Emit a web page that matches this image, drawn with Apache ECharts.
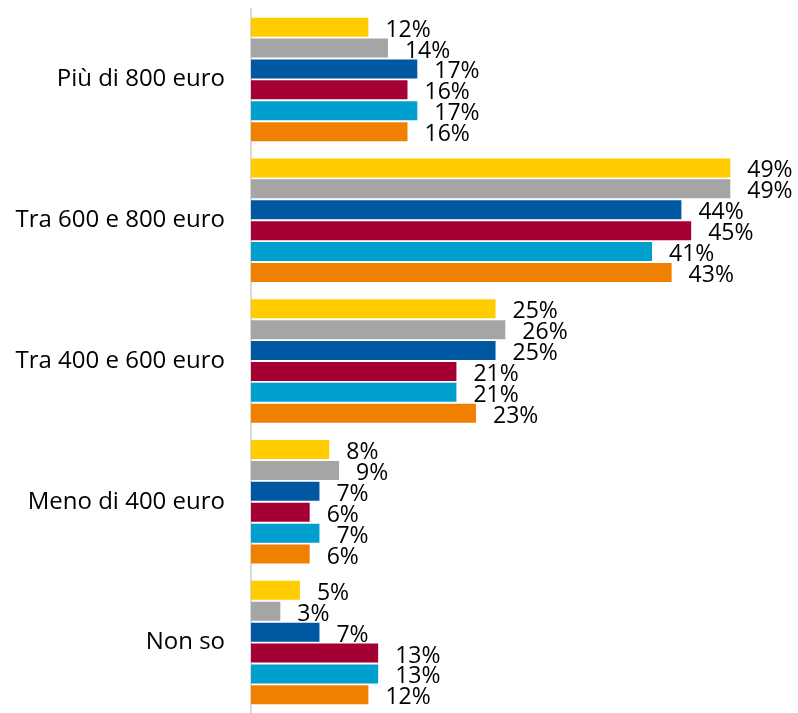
<!DOCTYPE html>
<html>
<head>
<meta charset="utf-8">
<title>Fasce di spesa</title>
<script src="https://cdn.jsdelivr.net/npm/echarts@6.0.0/dist/echarts.min.js"></script>
<style>
  html, body { margin: 0; padding: 0; background: #fff; }
  #chart { width: 798px; height: 713px; }
</style>
</head>
<body>
<div id="chart"></div>
<script>
// categories, top to bottom
const categories = ["Più di 800 euro", "Tra 600 e 800 euro", "Tra 400 e 600 euro", "Meno di 400 euro", "Non so"];

// one array per series (percent), same order as categories
const serie1 = [12, 49, 25, 8, 5];
const serie2 = [14, 49, 26, 9, 3];
const serie3 = [17, 44, 25, 7, 7];
const serie4 = [16, 45, 21, 6, 13];
const serie5 = [17, 41, 21, 7, 13];
const serie6 = [16, 43, 23, 6, 12];

const seriesNames = ["Serie 1", "Serie 2", "Serie 3", "Serie 4", "Serie 5", "Serie 6"];
const colors = ["#FFCC00", "#A5A5A5", "#0057A2", "#A50034", "#00A0CE", "#F08000"];

const chart = echarts.init(document.getElementById("chart"), null, { renderer: "canvas" });

const allSeries = [serie1, serie2, serie3, serie4, serie5, serie6].map(function (data, i) {
  return {
    name: seriesNames[i],
    type: "bar",
    data: data,
    barWidth: 19,
    barGap: "10%",
    itemStyle: { color: colors[i] },
    label: {
      show: true,
      position: "right",
      distance: 17,
      offset: [0, 3],
      formatter: "{c}%",
      color: "#000",
      fontFamily: "Open Sans",
      fontSize: 23
    },
    animation: false
  };
});

chart.setOption({
  animation: false,
  grid: { left: 251, top: 9, width: 538, height: 710 },
  xAxis: {
    type: "value",
    min: 0,
    max: 55,
    show: false
  },
  yAxis: {
    type: "category",
    data: categories,
    inverse: true,
    axisLine: { show: true, lineStyle: { color: "#D9D9D9", width: 2 } },
    axisTick: { show: false },
    axisLabel: {
      margin: 26,
      color: "#000",
      fontFamily: "Open Sans",
      fontSize: 24
    }
  },
  series: allSeries
});
</script>
</body>
</html>
